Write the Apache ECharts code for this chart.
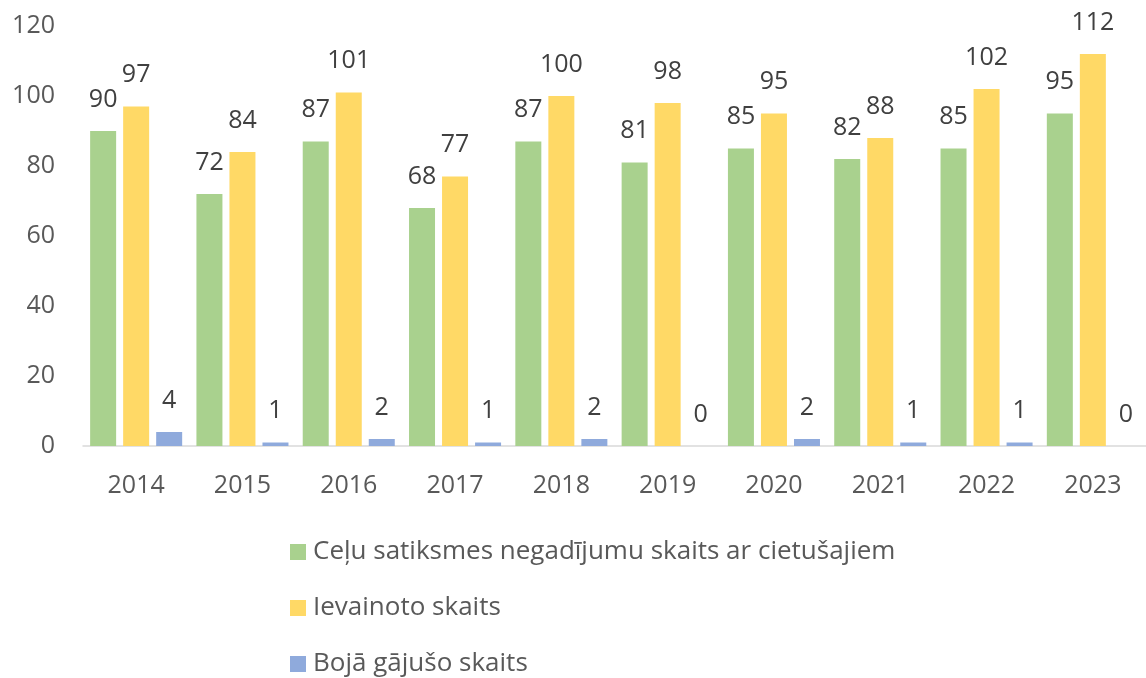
<!DOCTYPE html>
<html>
<head>
<meta charset="utf-8">
<script src="https://cdn.jsdelivr.net/npm/echarts@6/dist/echarts.min.js"></script>
<style>
  html, body { margin: 0; padding: 0; background: #ffffff; }
  #chart { width: 1146px; height: 678px; }
</style>
</head>
<body>
<div id="chart"></div>
<script>
// Road traffic accident statistics by year
const years = ['2014', '2015', '2016', '2017', '2018', '2019', '2020', '2021', '2022', '2023'];
const accidents = [90, 72, 87, 68, 87, 81, 85, 82, 85, 95];
const injured = [97, 84, 101, 77, 100, 98, 95, 88, 102, 112];
const killed = [4, 1, 2, 1, 2, 0, 2, 1, 1, 0];
const seriesNames = [
  'Ceļu satiksmes negadījumu skaits ar cietušajiem',
  'Ievainoto skaits',
  'Bojā gājušo skaits'
];
const colors = ['#a9d18e', '#ffd966', '#8faadc'];

const font = '"Open Sans", sans-serif';
const labelStyle = {
  show: true,
  position: 'top',
  distance: 19,
  color: '#404040',
  fontFamily: font,
  fontSize: 25
};

function barSeries(name, data, color) {
  return {
    name: name,
    type: 'bar',
    data: data,
    barWidth: 26,
    barGap: '27%',
    itemStyle: { color: color },
    label: labelStyle
  };
}

const chart = echarts.init(document.getElementById('chart'), null, { renderer: 'canvas' });
chart.setOption({
  animation: false,
  color: colors,
  grid: { left: 83, top: 26, width: 1065, height: 420, containLabel: false },
  xAxis: {
    type: 'category',
    data: years,
    axisLine: { lineStyle: { color: '#d9d9d9', width: 1.5 } },
    axisTick: { show: false },
    axisLabel: { color: '#595959', fontFamily: font, fontSize: 25, margin: 27 }
  },
  yAxis: {
    type: 'value',
    min: 0,
    max: 120,
    interval: 20,
    splitLine: { show: false },
    axisLine: { show: false },
    axisTick: { show: false },
    axisLabel: { color: '#595959', fontFamily: font, fontSize: 25, margin: 28 }
  },
  legend: {
    orient: 'vertical',
    left: 290,
    top: 539,
    height: 139,
    padding: 0,
    itemWidth: 16,
    itemHeight: 16,
    itemGap: 30,
    icon: 'rect',
    textStyle: { color: '#595959', fontFamily: font, fontSize: 26, lineHeight: 26, padding: [0, 0, 0, 2] },
    data: seriesNames
  },
  series: [
    barSeries(seriesNames[0], accidents, colors[0]),
    barSeries(seriesNames[1], injured, colors[1]),
    barSeries(seriesNames[2], killed, colors[2])
  ]
});
</script>
</body>
</html>
